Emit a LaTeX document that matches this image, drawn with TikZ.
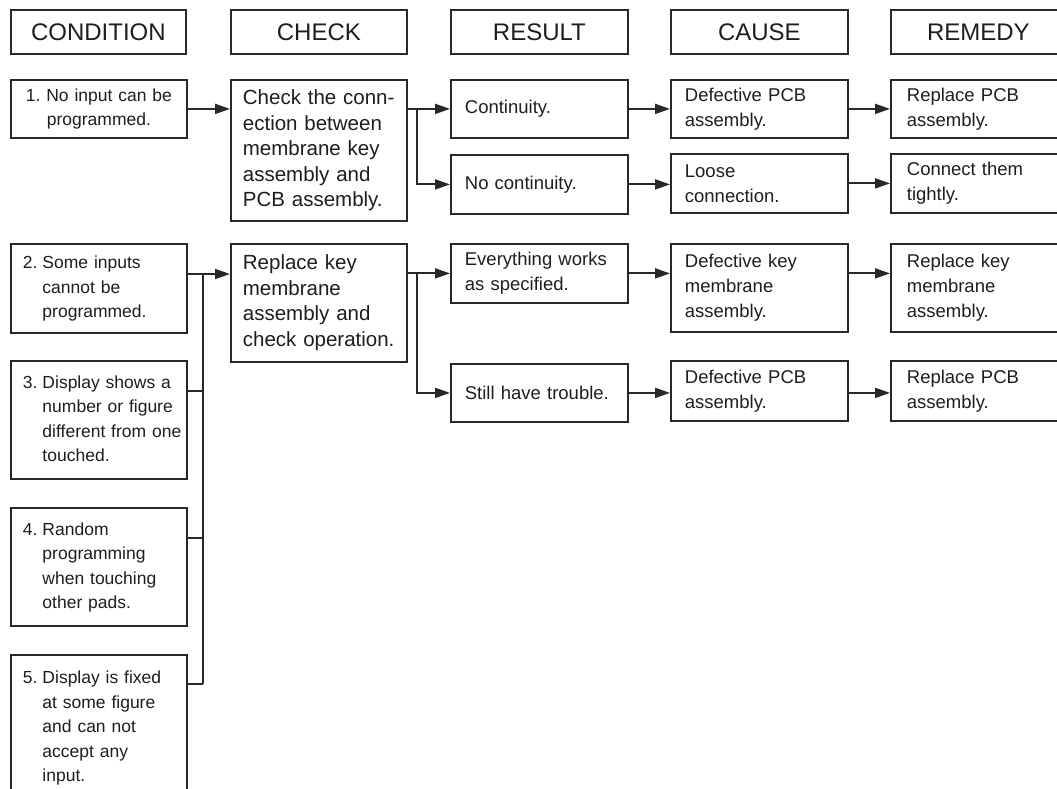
\documentclass[tikz,border=0pt]{standalone}
\usepackage{fontspec}
\setmainfont{Liberation Sans}
\usetikzlibrary{arrows.meta}
\definecolor{lc}{RGB}{40,40,40}
\definecolor{tc}{RGB}{30,30,30}
\newcommand{\hangitem}[2]{\begin{tabular}{@{}l@{\hspace{5pt}}l@{}}#1 & #2\end{tabular}}
\begin{document}
\begin{tikzpicture}[x=1pt,y=-1pt,
  base/.style={draw=lc, line width=1.8pt, anchor=north west, text=tc, inner ysep=0pt},
  hdr/.style={base, minimum width=#1, minimum height=44pt, inner xsep=0pt, font=\fontsize{24}{28}\selectfont},
  cbox/.style={base, text width=152pt, inner xsep=12pt, align=left, minimum height=#1, font=\fontsize{17.5}{24.5}\selectfont},
  chkbox/.style={base, text width=152pt, inner xsep=12pt, align=left, minimum height=#1, font=\fontsize{20.5}{25.5}\selectfont},
  rbox/.style={base, text width=149pt, inner xsep=14pt, align=left, minimum height=#1, font=\fontsize{18.5}{25}\selectfont},
  mbox/.style={base, text width=143pt, inner xsep=16pt, align=left, minimum height=#1, font=\fontsize{18.5}{25}\selectfont},
  ln/.style={draw=lc, line width=1.9pt},
  arr/.style={ln, -{Triangle[length=15pt,width=10pt]}}
]
\useasboundingbox (0,0) rectangle (1057,789);
\fill[white] (0,0) rectangle (1057,789);
\clip (0,0) rectangle (1057,789);

% headers
\node[hdr=175pt] (hcond)  at (10,9)  {CONDITION};
\node[hdr=176pt] (hcheck) at (230,9) {CHECK};
\node[hdr=177pt] (hres)   at (450,9) {RESULT};
\node[hdr=177pt] (hcause) at (670,9) {CAUSE};
\node[hdr=175pt] (hrem)   at (890,9) {REMEDY};

% row 1
\node[cbox=58pt, align=center] (c1) at (10,79) {1.\ No input can be\\programmed.};
\node[chkbox=141pt] (k1) at (230,79) {Check the conn-\\ection between\\membrane key\\assembly and\\PCB assembly.};
\node[rbox=58pt] (r1a) at (450,79)  {Continuity.};
\node[rbox=59pt] (r1b) at (450,154) {No continuity.};
\node[rbox=58pt] (s1a) at (670,79)  {Defective PCB\\assembly.};
\node[rbox=59pt] (s1b) at (670,153) {Loose\\connection.};
\node[mbox=58pt] (m1a) at (890,79)  {Replace PCB\\assembly.};
\node[mbox=59pt] (m1b) at (890,153) {Connect them\\tightly.};

% row 2
\node[cbox=89pt]  (c2) at (10,243) {\hangitem{2.}{Some inputs\\ & cannot be\\ & programmed.}};
\node[cbox=118pt] (c3) at (10,360) {\hangitem{3.}{Display shows a\\ & number or figure\\ & different from one\\ & touched.}};
\node[cbox=118pt] (c4) at (10,507) {\hangitem{4.}{Random\\ & programming\\ & when touching\\ & other pads.}};
\node[cbox=146pt] (c5) at (10,654) {\hangitem{5.}{Display is fixed\\ & at some figure\\ & and can not\\ & accept any\\ & input.}};
\node[chkbox=118pt] (k2) at (230,243) {Replace key\\membrane\\assembly and\\check operation.};
\node[rbox=59pt] (r2a) at (450,243) {Everything works\\as specified.};
\node[rbox=58pt] (r2b) at (450,363) {Still have trouble.};
\node[rbox=88pt] (s2a) at (670,243) {Defective key\\membrane\\assembly.};
\node[rbox=60pt] (s2b) at (670,360) {Defective PCB\\assembly.};
\node[mbox=88pt] (m2a) at (890,243) {Replace key\\membrane\\assembly.};
\node[mbox=60pt] (m2b) at (890,360) {Replace PCB\\assembly.};

% connectors row 1
\coordinate (sp) at (417,0);
\draw[arr] (c1.east) -- (c1.east -| k1.west);
\draw[arr] (k1.east |- r1a.west) -- (r1a.west);
\draw[arr] (sp |- r1a.west) |- (r1b.west);
\draw[arr] (r1a.east) -- (r1a.east -| s1a.west);
\draw[arr] (r1b.east) -- (r1b.east -| s1b.west);
\draw[arr] (s1a.east) -- (s1a.east -| m1a.west);
\draw[arr] (s1b.east) -- (s1b.east -| m1b.west);

% connectors row 2
\coordinate (bus) at (203,0);
\coordinate (c2o) at ([yshift=-31pt]c2.north east);
\coordinate (c3o) at ([yshift=-31pt]c3.north east);
\coordinate (c4o) at ([yshift=-31pt]c4.north east);
\coordinate (c5o) at ([yshift=-30pt]c5.north east);
\draw[arr] (c2o) -- (c2o -| k2.west);
\draw[ln] (c2o -| bus) -- (c5o -| bus);
\draw[ln] (c3o) -- (c3o -| bus);
\draw[ln] (c4o) -- (c4o -| bus);
\draw[ln] (c5o) -- (c5o -| bus);
\draw[arr] (k2.east |- r2a.west) -- (r2a.west);
\draw[arr] (sp |- r2a.west) |- (r2b.west);
\draw[arr] (r2a.east) -- (r2a.east -| s2a.west);
\draw[arr] (r2a.east -| s2a.east) -- (r2a.east -| m2a.west);
\draw[arr] (r2b.east) -- (r2b.east -| s2b.west);
\draw[arr] (r2b.east -| s2b.east) -- (r2b.east -| m2b.west);
\end{tikzpicture}
\end{document}
